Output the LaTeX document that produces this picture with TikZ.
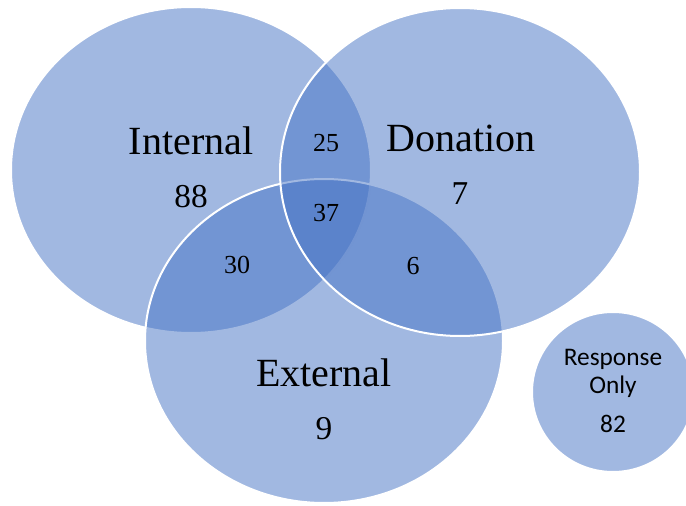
\documentclass[tikz,border=0pt]{standalone}
\usepackage{fontspec}
\setmainfont{Liberation Serif}
\newfontfamily\calibri{Carlito}
\definecolor{vennblue}{HTML}{4472C4}

\begin{document}
\begin{tikzpicture}[x=.75pt,y=-.75pt,
 set/.style={fill=vennblue,fill opacity=.5,draw=white,line width=1.5pt},
 lbl/.style={anchor=base,inner sep=0pt,font=\fontsize{30}{36}\selectfont},
 cnt/.style={anchor=base,inner sep=0pt,font=\fontsize{25}{30}\selectfont},
 ovl/.style={anchor=base,inner sep=0pt,font=\fontsize{19.5}{23}\selectfont},
 side/.style={anchor=base,inner sep=0pt,font=\calibri\fontsize{19}{23}\selectfont}]
\clip (0,0) rectangle (686,506);
% the three sets, then the lone one
\draw[set] (191,170) ellipse [x radius=180,y radius=163];
\draw[set] (324,341) ellipse [x radius=179,y radius=162];
\draw[set] (460,172) ellipse [x radius=180,y radius=164];
\draw[set] (613,392) ellipse [x radius=81,y radius=80];
\node[lbl] (int) at (191,155) {Internal};
\node[cnt] (intn) at (191,208) {88};
\node[lbl] (don) at (461,152) {Donation};
\node[cnt] (donn) at (460,205) {7};
\node[lbl] (ext) at (324,386) {External};
\node[cnt] (extn) at (324,439) {9};
\node[ovl] (intdon) at (326,152) {25};
\node[ovl] (all) at (326,222) {37};
\node[ovl] (intext) at (237,274) {30};
\node[ovl] (donext) at (413,275) {6};
\node[side] (resp) at (613,365) {Response};
\node[side] (only) at (613,393) {Only};
\node[side] (respn) at (613,432) {82};
\end{tikzpicture}
\end{document}
